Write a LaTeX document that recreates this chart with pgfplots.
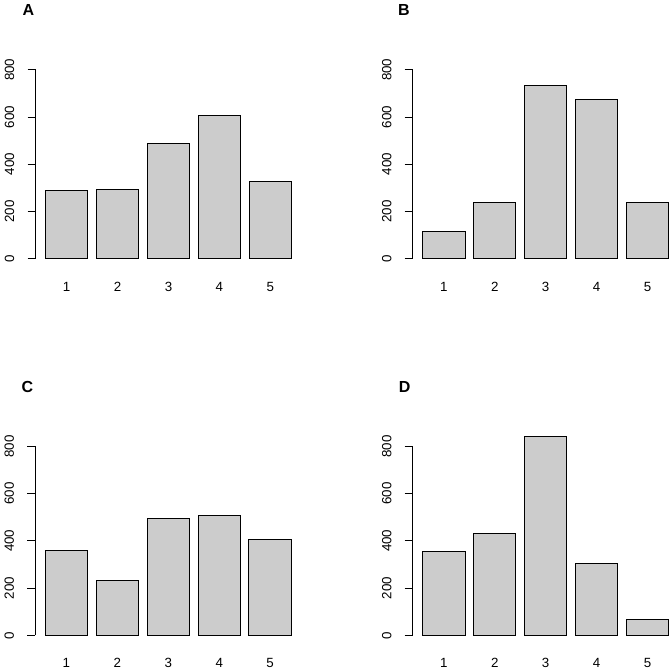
\documentclass[border=0pt]{standalone}
\usepackage{pgfplots}
\pgfplotsset{compat=1.18}
\usepackage{fontspec}
\setmainfont{Liberation Sans}
\definecolor{barfill}{RGB}{204,204,204}
\pgfplotsset{
  rbar/.style={
    x=31.84pt, y=0.17708pt,
    xmin=-0.032, xmax=6.232, ymin=0, ymax=800,
    enlargelimits=false, clip=false,
    axis lines*=left,
    x axis line style={draw=none},
    y axis line style={line width=0.75pt, black},
    xtick={0.7,1.9,3.1,4.3,5.5},
    xticklabels={1,2,3,4,5},
    major x tick style={draw=none},
    ytick={0,200,400,600,800},
    major y tick style={line width=0.75pt, black},
    tick align=outside,
    major tick length=6pt,
    /pgf/number format/assume math mode=true,
    ticklabel style={font=\fontsize{10}{12}\selectfont},
    xticklabel style={anchor=center, yshift=-15pt},
    yticklabel style={anchor=center, xshift=-13.5pt, rotate=90},
    anchor=south west,
  },
  rplot/.style={ybar, bar width=1, bar shift=0pt, fill=barfill, draw=black, line width=0.75pt},
}
\begin{document}
\begin{tikzpicture}
\path[use as bounding box] (0,0) rectangle (504pt,503.25pt);
% A
\begin{axis}[rbar, at={(26.625pt,309.225pt)}]
\addplot[rplot] coordinates {(0.7,287) (1.9,291) (3.1,489) (4.3,605) (5.5,329)};
\end{axis}
% B
\begin{axis}[rbar, at={(309.525pt,309.225pt)}]
\addplot[rplot] coordinates {(0.7,117) (1.9,239) (3.1,735) (4.3,676) (5.5,236)};
\end{axis}
% C
\begin{axis}[rbar, at={(26.5pt,26.775pt)}]
\addplot[rplot] coordinates {(0.7,360) (1.9,231) (3.1,495) (4.3,509) (5.5,404)};
\end{axis}
% D
\begin{axis}[rbar, at={(309.525pt,26.775pt)}]
\addplot[rplot] coordinates {(0.7,357) (1.9,430) (3.1,841) (4.3,305) (5.5,69)};
\end{axis}
\node[font=\bfseries\fontsize{12}{14}\selectfont] at (21.375pt,495.375pt) {A};
\node[font=\bfseries\fontsize{12}{14}\selectfont] at (302.85pt,495.375pt) {B};
\node[font=\bfseries\fontsize{12}{14}\selectfont] at (20.625pt,213.0pt) {C};
\node[font=\bfseries\fontsize{12}{14}\selectfont] at (303.5pt,213.0pt) {D};
\end{tikzpicture}
\end{document}
